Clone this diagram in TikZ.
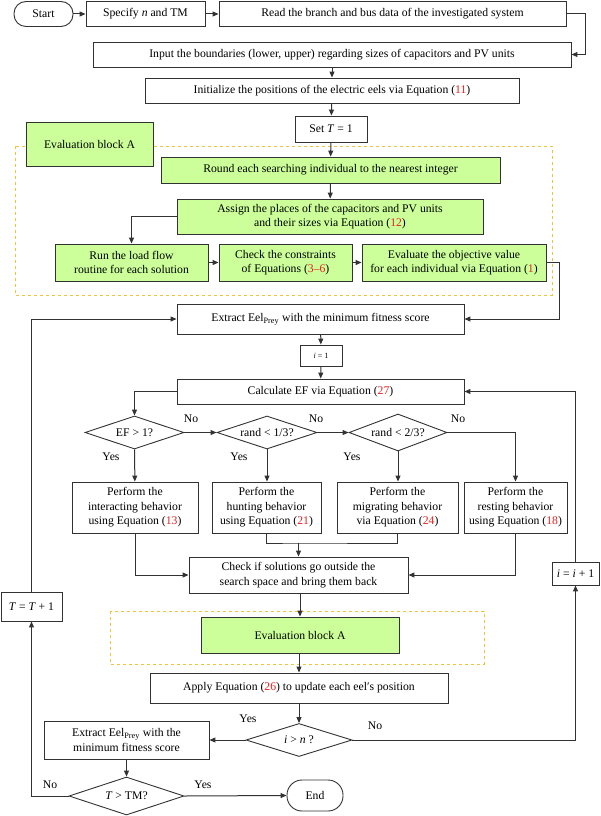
\documentclass[tikz,border=0pt]{standalone}
\usepackage{fontspec}
\setmainfont{Liberation Serif}
\usetikzlibrary{arrows.meta,shapes.geometric,calc}
\definecolor{boxgreen}{RGB}{204,255,153}
\definecolor{eqred}{RGB}{230,30,30}
\definecolor{dashy}{RGB}{240,195,60}
\definecolor{edgecol}{RGB}{50,50,50}
\newcommand{\eqn}[1]{\textcolor{eqred}{#1}}
\begin{document}
\begin{tikzpicture}[x=1pt,y=-1pt,
 every node/.style={font=\fontsize{11.7}{14.5}\selectfont},
 box/.style={draw=edgecol, line width=0.9pt, rectangle, align=center, inner sep=1pt},
 gbox/.style={box, fill=boxgreen},
 term/.style={box, rounded corners=12pt},
 dia/.style={draw=edgecol, line width=0.9pt, diamond, aspect=3, inner sep=0pt, align=center},
 arr/.style={draw=edgecol, line width=1pt, -{Triangle[length=6pt,width=5pt]}},
 ln/.style={draw=edgecol, line width=1pt},
 lab/.style={font=\fontsize{11.7}{13}\selectfont, inner sep=0pt},
 dbox/.style={draw=dashy, dashed, line width=0.9pt}]
\useasboundingbox (0,0) rectangle (600,816);

% dashed groups
\draw[dbox] (15,146) rectangle (552,295);
\draw[dbox] (110,611) rectangle (484,664);

% top row
\node[term, minimum width=59, minimum height=25] (start) at (43.5,14) {Start};
\node[box, minimum width=119, minimum height=25] (spec) at (145.5,14) {Specify \textit{n} and TM};
\node[box, minimum width=347, minimum height=25] (read) at (392.5,14) {Read the branch and bus data of the investigated system};
\node[box, minimum width=478, minimum height=25] (input) at (332,54.5) {Input the boundaries (lower, upper) regarding sizes of capacitors and PV units};
\node[box, minimum width=374, minimum height=25] (init) at (332,90.5) {Initialize the positions of the electric eels via Equation (\eqn{11})};
\node[box, minimum width=72, minimum height=26] (setT) at (331,129) {Set \textit{T} = 1};

% evaluation block A
\node[gbox, minimum width=127, minimum height=44] (evlabel) at (89.5,144) {Evaluation block A};
\node[gbox, minimum width=339, minimum height=26] (round) at (330.5,170) {Round each searching individual to the nearest integer};
\node[gbox, minimum width=306, minimum height=35] (assign) at (330,216.5) {Assign the places of the capacitors and PV units\\and their sizes via Equation (\eqn{12})};
\node[gbox, minimum width=153, minimum height=37] (run) at (131.5,262.5) {Run the load flow\\routine for each solution};
\node[gbox, minimum width=133, minimum height=37] (check) at (285.5,262.5) {Check the constraints\\of Equations (\eqn{3–6})};
\node[gbox, minimum width=184, minimum height=37] (evalobj) at (454,262.5) {Evaluate the objective value\\for each individual via Equation (\eqn{1})};

% main loop
\node[box, minimum width=287, minimum height=30] (extract) at (320.5,319) {Extract Eel\textsubscript{Prey} with the minimum fitness score};
\node[box, minimum width=42, minimum height=21, font=\fontsize{8}{9}\selectfont] (i1) at (321,355.5) {\textit{i} = 1};
\node[box, minimum width=287, minimum height=25] (calc) at (320.5,391.5) {Calculate EF via Equation (\eqn{27})};

\node[dia, minimum width=99, minimum height=33] (d1) at (134.5,432.5) {EF > 1?};
\node[dia, minimum width=100, minimum height=33] (d2) at (267,432.5) {rand < 1/3?};
\node[dia, minimum width=98, minimum height=37] (d3) at (398,432.5) {rand < 2/3?};

\node[box, minimum width=126, minimum height=51] (inter) at (135,507.5) {Perform the\\interacting behavior\\using Equation (\eqn{13})};
\node[box, minimum width=109, minimum height=51] (hunt) at (266.5,507.5) {Perform the\\hunting behavior\\using Equation (\eqn{21})};
\node[box, minimum width=121, minimum height=51] (migr) at (397.5,507.5) {Perform the\\migrating behavior\\via Equation (\eqn{24})};
\node[box, minimum width=103, minimum height=51] (rest) at (515.5,507.5) {Perform the\\resting behavior\\using Equation (\eqn{18})};

\node[box, minimum width=219, minimum height=36] (checksol) at (298.5,575) {Check if solutions go outside the\\search space and bring them back};
\node[gbox, minimum width=198, minimum height=36] (evalA) at (300,635) {Evaluation block A};
\node[box, minimum width=298, minimum height=30] (apply) at (299,688) {Apply Equation (\eqn{26}) to update each eel′s position};
\node[dia, minimum width=106, minimum height=33] (d4) at (299,740) {\textit{i} > \textit{n} ?};
\node[box, minimum width=47, minimum height=23, inner sep=0.5pt] (iinc) at (575.5,573.5) {\textit{i} = \textit{i} + 1};
\node[box, minimum width=165, minimum height=38] (extract2) at (126.5,740) {Extract Eel\textsubscript{Prey} with the\\minimum fitness score};
\node[dia, minimum width=115, minimum height=38] (d5) at (126.5,796) {\textit{T} > TM?};
\node[term, rounded corners=15pt, minimum width=56, minimum height=31] (endn) at (315,795.5) {End};
\node[box, minimum width=61, minimum height=29] (tinc) at (31.5,606.5) {\textit{T} = \textit{T} + 1};

% labels
\node[lab] (no1) at (191,419) {No};
\node[lab] (no2) at (316,419) {No};
\node[lab] (no3) at (458,419) {No};
\node[lab] (yes1) at (111,457) {Yes};
\node[lab] (yes2) at (239,457) {Yes};
\node[lab] (yes3) at (352,457) {Yes};
\node[lab] (yes4) at (248,719) {Yes};
\node[lab] (no4) at (375,726) {No};
\node[lab] (no5) at (50,785) {No};
\node[lab] (yes5) at (203,785) {Yes};

% connectors
\draw[arr] (start) -- (spec);
\draw[arr] (spec) -- (read);
\draw[arr] (read.east) -- ++(19,0) |- (input.east);
\draw[arr] (input) -- (init);
\draw[arr] (init) -- (setT);
\draw[arr] (setT) -- (round);
\draw[arr] (round) -- (assign);
\draw[arr] (assign.west) -| (run.north);
\draw[arr] (run) -- (check);
\draw[arr] (check) -- (evalobj);
\draw[arr] (evalobj.east) -- ++(13,0) |- (extract.east);
\draw[arr] (extract) -- (i1);
\draw[arr] (i1) -- (calc);
\draw[arr] (calc.west) -| (d1.north);
\draw[arr] (d1) -- (d2);
\draw[arr] (d2) -- (d3);
\draw[arr] (d3.east) -| (rest.north);
\draw[arr] (d1) -- (inter);
\draw[arr] (d2.south) -- (hunt.north -| d2.south);
\draw[arr] (d3.south) -- (migr.north -| d3.south);
\draw[arr] (inter.south) |- (checksol.west);
\draw[arr] (rest.south) |- (checksol.east);
\coordinate (join) at (298.5,543);
\draw[ln] (hunt.south) |- (join) -| (migr.south);
\draw[arr] (join) -- (checksol.north);
\draw[arr] (checksol.south -| evalA.north) -- (evalA.north);
\draw[arr] (evalA.south -| apply.north) -- (apply.north);
\draw[arr] (apply) -- (d4);
\draw[arr] (d4.west) -- (extract2.east);
\draw[arr] (d4.east) -| (iinc.south);
\draw[arr] (iinc.north) |- (calc.east);
\draw[arr] (extract2) -- (d5);
\draw[arr] (d5.east) -- (endn.west);
\draw[arr] (d5.west) -| (tinc.south);
\draw[arr] (tinc.north) |- (extract.west);
\end{tikzpicture}
\end{document}
